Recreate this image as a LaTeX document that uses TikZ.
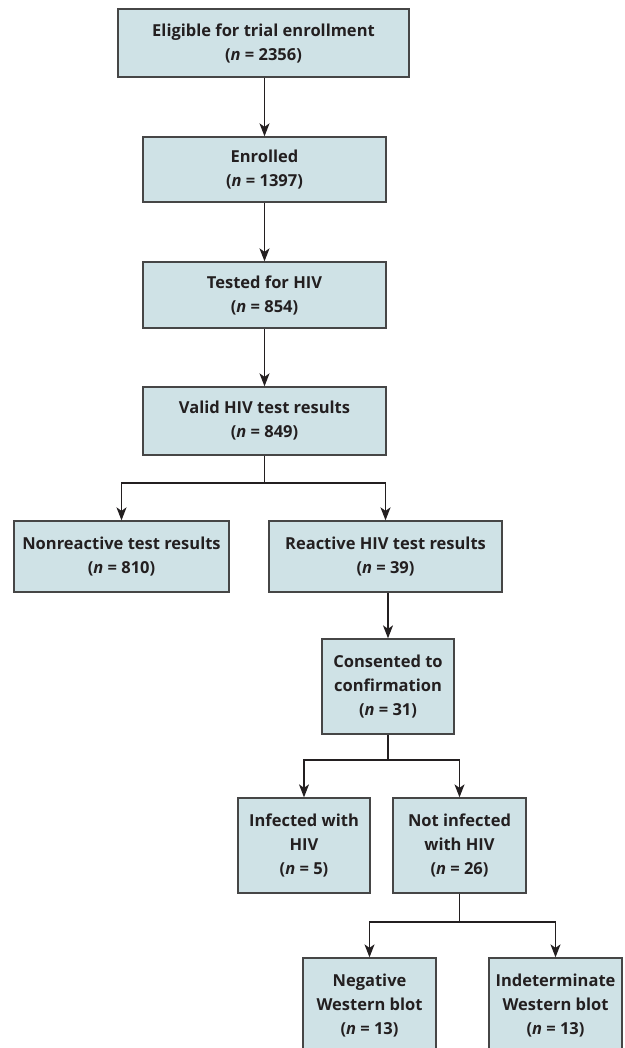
\documentclass[tikz,border=0pt]{standalone}
\usepackage{fontspec}
\setmainfont{Open Sans}
\usetikzlibrary{arrows.meta}
\definecolor{boxfill}{RGB}{207,226,230}
\definecolor{boxline}{RGB}{70,70,70}
\definecolor{txt}{RGB}{35,31,32}
\tikzset{
  fbox/.style={draw=boxline, line width=1.3pt, fill=boxfill, rectangle, align=center,
    inner sep=0pt, text=txt, font=\fontsize{16.5}{24}\selectfont\bfseries,
    minimum width=#1},
  conn/.style={draw=txt, line width=1.3pt},
  arr/.style={conn, -{Stealth[length=13pt,width=10pt,inset=3.5pt]}}
}
\begin{document}
\begin{tikzpicture}[x=1pt,y=-1pt]
\useasboundingbox (0,0) rectangle (624,1048);
\clip (0,0) rectangle (624,1048);
\node[fbox=291pt, minimum height=68pt] (elig) at (263.5,43) {Eligible for trial enrollment\\(\textit{n} = 2356)};
\node[fbox=243pt, minimum height=65pt] (enr) at (264.5,169.5) {Enrolled\\(\textit{n} = 1397)};
\node[fbox=243pt, minimum height=66pt] (test) at (264.5,295) {Tested for HIV\\(\textit{n} = 854)};
\node[fbox=243pt, minimum height=68pt] (valid) at (264.5,421) {Valid HIV test results\\(\textit{n} = 849)};
\node[fbox=215pt, minimum height=71pt] (nonr) at (121.5,556.5) {Nonreactive test results\\(\textit{n} = 810)};
\node[fbox=233pt, minimum height=71pt] (react) at (385.5,556.5) {Reactive HIV test results\\(\textit{n} = 39)};
\node[fbox=132pt, minimum height=95pt] (cons) at (388,686.5) {Consented to\\confirmation\\(\textit{n} = 31)};
\node[fbox=132pt, minimum height=95pt] (inf) at (304,845.5) {Infected with\\HIV\\(\textit{n} = 5)};
\node[fbox=133pt, minimum height=95pt] (notinf) at (459.5,845.5) {Not infected\\with HIV\\(\textit{n} = 26)};
\node[fbox=133pt, minimum height=95pt] (neg) at (369.5,1005.5) {Negative\\Western blot\\(\textit{n} = 13)};
\node[fbox=133pt, minimum height=95pt] (ind) at (555.5,1005.5) {Indeterminate\\Western blot\\(\textit{n} = 13)};
\draw[arr] (elig.south -| enr.north) -- (enr.north);
\draw[arr] (enr.south) -- (test.north);
\draw[arr] (test.south) -- (valid.north);
\coordinate (j1) at (264.5,483);
\draw[conn] (valid.south) -- (j1);
\draw[arr] (j1) -| (nonr.north);
\draw[arr] (j1) -| (react.north);
\draw[arr] (react.south -| cons.north) -- (cons.north);
\coordinate (j2) at (388,760);
\draw[conn] (cons.south) -- (j2);
\draw[arr] (j2) -| (inf.north);
\draw[arr] (j2) -| (notinf.north);
\coordinate (j3) at (459.5,922);
\draw[conn] (notinf.south) -- (j3);
\draw[arr] (j3) -| (neg.north);
\draw[arr] (j3) -| (ind.north);
\end{tikzpicture}
\end{document}
